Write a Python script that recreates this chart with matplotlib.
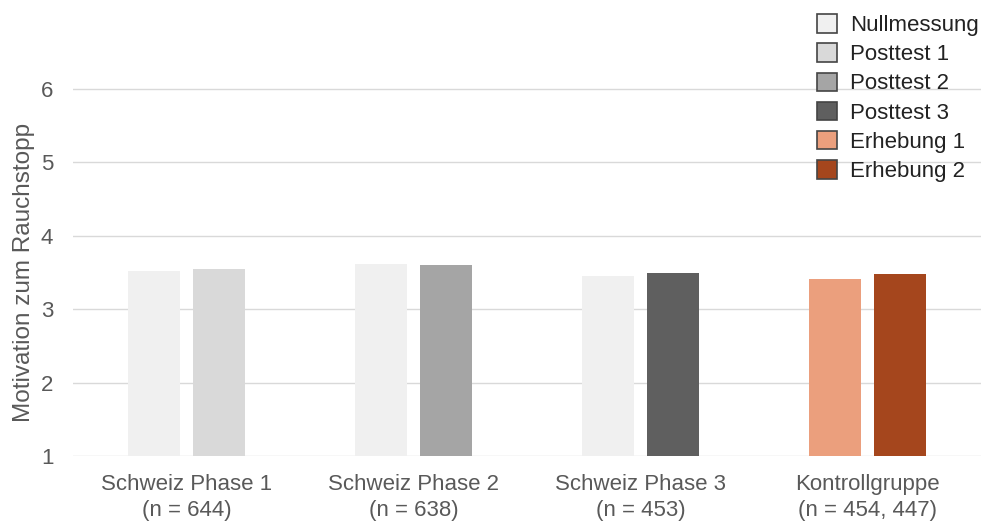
# Motivation zum Rauchstopp: Gruppenvergleich als gruppierte Balken

import matplotlib.pyplot as plt
from matplotlib.patches import Patch
import numpy as np

plt.rcParams['font.family'] = ['Liberation Sans', 'DejaVu Sans']

groups = ['Schweiz Phase 1\n(n = 644)', 'Schweiz Phase 2\n(n = 638)',
          'Schweiz Phase 3\n(n = 453)', 'Kontrollgruppe\n(n = 454, 447)']

# first and second measurement per group
first_vals = [3.52, 3.62, 3.46, 3.41]
second_vals = [3.55, 3.60, 3.50, 3.48]

legend_names = ['Nullmessung', 'Posttest 1', 'Posttest 2', 'Posttest 3',
                'Erhebung 1', 'Erhebung 2']
legend_colors = ['#f0f0f0', '#d9d9d9', '#a5a5a5', '#5f5f5f',
                 '#eb9f7d', '#a5461d']

first_colors = ['#f0f0f0', '#f0f0f0', '#f0f0f0', '#eb9f7d']
second_colors = ['#d9d9d9', '#a5a5a5', '#5f5f5f', '#a5461d']

text_col = '#595959'

fig = plt.figure(figsize=(9.84, 5.22), dpi=100, facecolor='w')
ax = fig.add_axes([0.074, 0.126, 0.923, 0.774])

x = np.arange(len(groups))
w = 0.229
off = 0.143
ax.bar(x - off, np.array(first_vals) - 1, w, bottom=1, color=first_colors, zorder=2)
ax.bar(x + off, np.array(second_vals) - 1, w, bottom=1, color=second_colors, zorder=2)

ax.set_xlim(-0.5, 3.5)
ax.set_ylim(1, 6.5)
ax.set_yticks([1, 2, 3, 4, 5, 6])
ax.set_xticks(x)
ax.set_xticklabels(groups, linespacing=1.3)
ax.yaxis.grid(True, color='#d9d9d9', linewidth=1, zorder=0)
for s in ax.spines.values():
    s.set_visible(False)
ax.tick_params(axis='both', length=0, colors=text_col, labelsize=16)
ax.tick_params(axis='x', pad=13)
ax.tick_params(axis='y', pad=14)
ax.set_ylabel('Motivation zum Rauchstopp', color=text_col, fontsize=17.5)
# centre the label on the gridded range 1..6
ax.yaxis.set_label_coords(-0.042, 2.5 / 5.5)

handles = [Patch(facecolor=c, edgecolor='#444444', linewidth=1.2) for c in legend_colors]
leg = fig.legend(handles, legend_names, loc='upper right', bbox_to_anchor=(1.004, 0.99),
                 frameon=False, fontsize=16, handlelength=0.9, handleheight=0.9,
                 handletextpad=0.6, labelspacing=0.33, borderaxespad=0,
                 labelcolor='#222222')

fig.savefig('out.png', dpi=100)
